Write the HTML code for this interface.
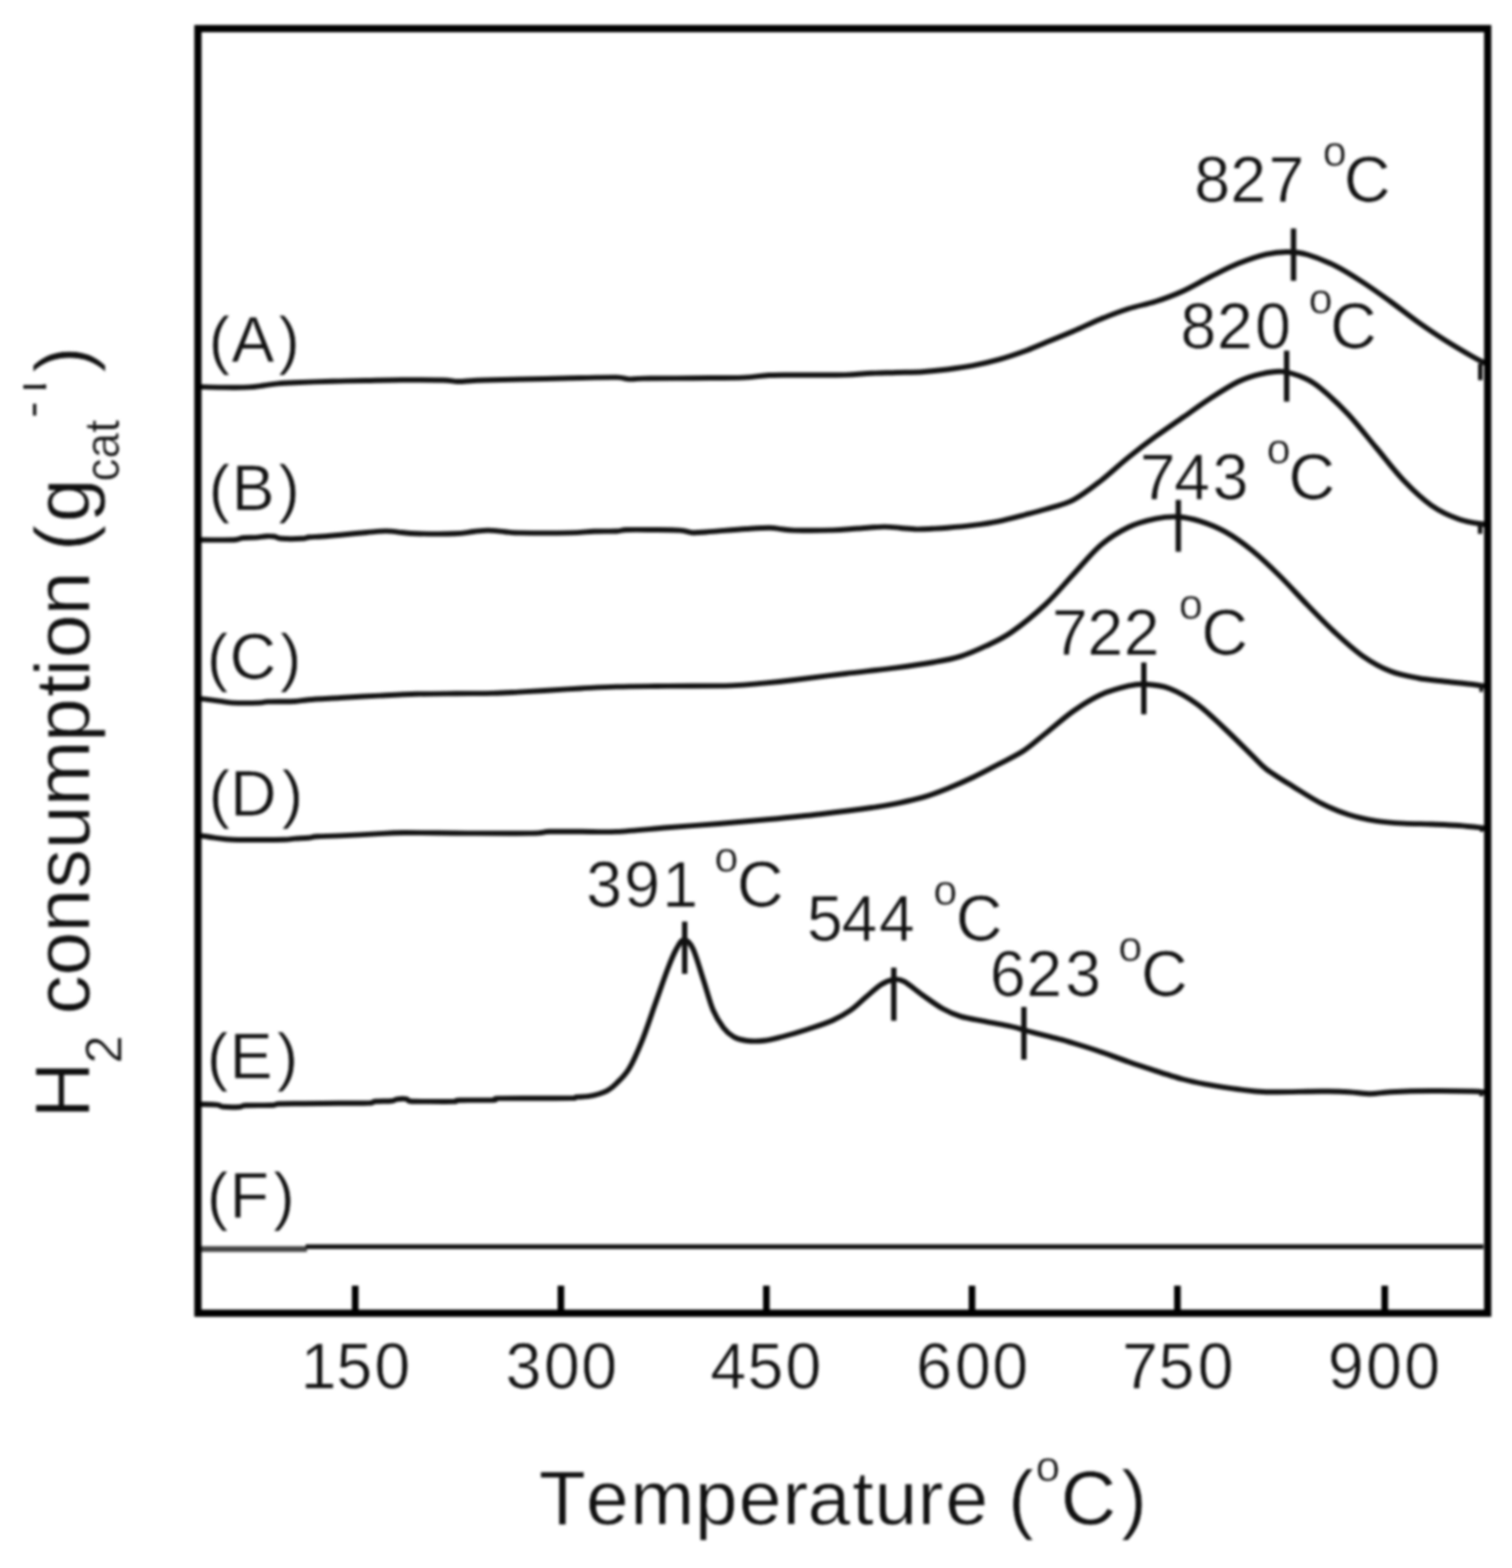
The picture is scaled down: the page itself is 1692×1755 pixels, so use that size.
<!DOCTYPE html>
<html lang="en">
<head>
<meta charset="utf-8">
<title>H2-TPR profiles</title>
<style>
html,body{margin:0;padding:0;background:#fff;}
body{width:1692px;height:1755px;overflow:hidden;}
svg{display:block;font-family:"Liberation Sans",Arial,Helvetica,sans-serif;}
svg text{fill:#111;font-kerning:none;stroke:#fff;stroke-width:0.7;}
</style>
</head>
<body>
<svg width="1692" height="1755" viewBox="0 0 1692 1755">
<rect x="0" y="0" width="1692" height="1755" fill="#fff"/>
<defs><filter id="soft" filterUnits="userSpaceOnUse" x="0" y="0" width="1692" height="1755" color-interpolation-filters="sRGB"><feGaussianBlur stdDeviation="1.4"/></filter></defs>
<g filter="url(#soft)">
<g fill="none" stroke="#111" stroke-width="5.9" stroke-linejoin="round" stroke-linecap="butt">
<path d="M224.0,433.0 C228.3,433.1 241.0,433.5 250.0,433.6 C259.0,433.7 270.5,433.8 278.0,433.4 C285.5,433.0 289.5,432.2 295.0,431.5 C300.5,430.8 305.2,429.9 311.0,429.4 C316.8,428.9 323.2,428.6 330.0,428.3 C336.8,428.0 343.7,427.7 352.0,427.4 C360.3,427.1 370.5,426.8 380.0,426.6 C389.5,426.4 397.3,426.2 409.0,426.0 C420.7,425.8 435.7,425.4 450.0,425.3 C464.3,425.2 484.7,425.2 495.0,425.5 C505.3,425.8 506.2,426.9 512.0,427.0 C517.8,427.1 523.3,426.3 530.0,426.0 C536.7,425.7 538.8,425.5 552.0,425.2 C565.2,424.9 592.7,424.4 609.0,424.0 C625.3,423.6 636.5,423.3 650.0,423.0 C663.5,422.7 681.0,422.2 690.0,422.4 C699.0,422.6 699.0,424.2 704.0,424.4 C709.0,424.6 708.2,423.8 720.0,423.6 C731.8,423.4 756.3,423.4 775.0,423.2 C793.7,423.0 817.7,423.1 832.0,422.6 C846.3,422.1 849.7,420.5 861.0,420.0 C872.3,419.5 885.8,419.9 900.0,419.8 C914.2,419.7 933.5,419.9 946.0,419.6 C958.5,419.3 965.5,418.2 975.0,417.8 C984.5,417.4 993.5,417.3 1003.0,417.0 C1012.5,416.7 1022.5,416.8 1032.0,416.2 C1041.5,415.6 1050.5,414.7 1060.0,413.5 C1069.5,412.3 1079.5,411.0 1089.0,409.2 C1098.5,407.4 1107.5,405.3 1117.0,402.7 C1126.5,400.1 1137.2,396.5 1146.0,393.3 C1154.8,390.1 1160.8,387.2 1170.0,383.5 C1179.2,379.8 1190.7,375.2 1201.0,370.8 C1211.3,366.4 1221.7,361.2 1232.0,357.0 C1242.3,352.8 1252.8,348.8 1263.0,345.5 C1273.2,342.2 1282.8,340.8 1293.0,337.5 C1303.2,334.2 1313.7,330.4 1324.0,325.7 C1334.3,321.0 1344.7,314.6 1355.0,309.5 C1365.3,304.4 1375.7,298.9 1386.0,294.8 C1396.3,290.7 1407.8,286.7 1417.0,284.6 C1426.2,282.5 1433.3,281.9 1441.0,282.0 C1448.7,282.1 1454.2,282.4 1463.0,285.0 C1471.8,287.6 1483.7,292.2 1494.0,297.4 C1504.3,302.5 1514.7,309.2 1525.0,315.9 C1535.3,322.6 1545.7,330.1 1556.0,337.5 C1566.3,344.9 1576.8,353.4 1587.0,360.6 C1597.2,367.8 1606.8,374.3 1617.0,380.7 C1627.2,387.1 1640.5,394.9 1648.0,399.2 C1655.5,403.5 1659.7,405.3 1662.0,406.5"/>
<path d="M224.0,604.3 C228.3,604.3 243.3,604.4 250.0,604.4 C256.7,604.4 260.3,604.4 264.0,604.0 C267.7,603.6 268.3,602.4 272.0,602.0 C275.7,601.6 281.7,601.9 286.0,601.6 C290.3,601.3 294.5,600.4 298.0,600.2 C301.5,600.0 304.2,600.1 307.0,600.5 C309.8,600.9 309.8,602.4 315.0,602.8 C320.2,603.2 332.8,603.1 338.0,602.8 C343.2,602.5 342.3,601.6 346.0,601.2 C349.7,600.8 354.2,600.9 360.0,600.5 C365.8,600.1 372.7,599.5 381.0,598.7 C389.3,598.0 401.5,596.7 410.0,596.0 C418.5,595.3 425.3,594.4 432.0,594.4 C438.7,594.4 444.3,595.5 450.0,596.0 C455.7,596.5 456.2,597.1 466.0,597.3 C475.8,597.5 498.3,597.7 509.0,597.3 C519.7,596.9 523.8,595.6 530.0,595.0 C536.2,594.4 540.2,593.6 546.0,593.6 C551.8,593.6 559.3,594.7 565.0,595.2 C570.7,595.7 568.0,596.2 580.0,596.4 C592.0,596.6 622.8,596.7 637.0,596.4 C651.2,596.1 656.2,595.1 665.0,594.8 C673.8,594.5 684.0,594.8 690.0,594.5 C696.0,594.2 694.3,593.2 701.0,593.0 C707.7,592.8 720.0,592.9 730.0,593.0 C740.0,593.1 753.5,593.1 761.0,593.6 C768.5,594.1 770.2,595.9 775.0,596.2 C779.8,596.5 785.2,595.8 790.0,595.5 C794.8,595.2 796.5,595.0 804.0,594.4 C811.5,593.8 825.5,592.6 835.0,592.0 C844.5,591.4 854.3,590.7 861.0,590.7 C867.7,590.8 870.3,591.8 875.0,592.3 C879.7,592.8 879.5,593.4 889.0,593.6 C898.5,593.8 920.2,593.8 932.0,593.4 C943.8,593.0 950.5,592.1 960.0,591.5 C969.5,590.9 981.0,589.7 989.0,589.6 C997.0,589.5 1001.8,590.5 1008.0,591.0 C1014.2,591.5 1020.2,592.3 1026.0,592.4 C1031.8,592.5 1037.3,592.1 1043.0,591.8 C1048.7,591.5 1052.3,591.4 1060.0,590.7 C1067.7,590.1 1079.5,589.1 1089.0,587.9 C1098.5,586.7 1107.5,585.5 1117.0,583.6 C1126.5,581.7 1137.2,578.8 1146.0,576.5 C1154.8,574.2 1160.8,572.8 1170.0,570.0 C1179.2,567.2 1190.7,564.9 1201.0,559.6 C1211.3,554.3 1221.7,546.0 1232.0,538.0 C1242.3,530.0 1252.8,520.0 1263.0,511.8 C1273.2,503.6 1282.8,496.2 1293.0,488.7 C1303.2,481.2 1313.7,474.2 1324.0,467.0 C1334.3,459.8 1344.7,452.2 1355.0,445.5 C1365.3,438.8 1376.7,431.5 1386.0,427.0 C1395.3,422.5 1402.8,420.5 1411.0,418.6 C1419.2,416.8 1426.8,415.1 1435.0,415.9 C1443.2,416.7 1452.8,420.1 1460.0,423.2 C1467.2,426.3 1469.8,427.9 1478.0,434.7 C1486.2,441.5 1498.7,452.9 1509.0,464.0 C1519.3,475.1 1529.7,488.7 1540.0,501.0 C1550.3,513.3 1560.7,527.2 1571.0,538.0 C1581.3,548.8 1591.7,558.6 1602.0,565.8 C1612.3,573.0 1623.0,577.6 1633.0,581.2 C1643.0,584.8 1657.2,586.2 1662.0,587.2"/>
<path d="M224.0,781.8 C227.5,782.3 239.0,783.8 245.0,784.6 C251.0,785.4 252.5,786.3 260.0,786.6 C267.5,786.9 283.3,786.8 290.0,786.6 C296.7,786.4 293.3,785.7 300.0,785.4 C306.7,785.1 322.5,785.4 330.0,785.0 C337.5,784.6 336.5,783.9 345.0,783.2 C353.5,782.5 367.7,781.8 381.0,781.0 C394.3,780.2 410.8,779.3 425.0,778.6 C439.2,777.9 451.8,777.2 466.0,776.8 C480.2,776.4 495.7,776.4 510.0,776.3 C524.3,776.1 540.3,776.2 552.0,775.9 C563.7,775.6 570.5,775.1 580.0,774.6 C589.5,774.1 597.3,773.7 609.0,773.0 C620.7,772.3 636.5,771.2 650.0,770.5 C663.5,769.8 673.8,769.0 690.0,768.6 C706.2,768.2 725.7,768.1 747.0,767.9 C768.3,767.7 800.0,767.9 818.0,767.4 C836.0,766.9 843.2,765.7 855.0,764.6 C866.8,763.5 873.8,762.8 889.0,761.0 C904.2,759.2 927.0,756.3 946.0,754.0 C965.0,751.7 986.3,749.6 1003.0,747.4 C1019.7,745.2 1034.0,743.1 1046.0,741.0 C1058.0,738.9 1065.5,737.6 1075.0,734.6 C1084.5,731.6 1093.5,727.7 1103.0,723.2 C1112.5,718.7 1120.8,715.3 1132.0,707.5 C1143.2,699.7 1158.5,687.2 1170.0,676.5 C1181.5,665.8 1190.7,654.1 1201.0,643.0 C1211.3,631.9 1221.7,618.8 1232.0,610.0 C1242.3,601.2 1252.8,594.9 1263.0,590.0 C1273.2,585.1 1283.8,582.5 1293.0,580.6 C1302.2,578.7 1309.7,578.0 1318.0,578.5 C1326.3,579.0 1334.2,580.6 1343.0,583.4 C1351.8,586.2 1361.3,589.8 1371.0,595.2 C1380.7,600.6 1390.8,607.8 1401.0,616.0 C1411.2,624.2 1421.7,634.3 1432.0,644.5 C1442.3,654.7 1452.7,666.4 1463.0,677.0 C1473.3,687.6 1483.7,698.5 1494.0,708.0 C1504.3,717.5 1514.7,727.1 1525.0,734.3 C1535.3,741.5 1545.7,747.2 1556.0,751.3 C1566.3,755.4 1576.8,757.1 1587.0,759.0 C1597.2,760.9 1606.8,761.5 1617.0,762.7 C1627.2,763.9 1640.5,765.1 1648.0,766.0 C1655.5,766.9 1659.7,767.7 1662.0,768.0"/>
<path d="M224.0,935.2 C226.7,935.6 234.0,936.8 240.0,937.6 C246.0,938.4 251.7,939.4 260.0,939.8 C268.3,940.2 280.3,940.0 290.0,940.0 C299.7,940.0 311.3,940.0 318.0,939.8 C324.7,939.6 325.5,938.9 330.0,938.6 C334.5,938.3 340.8,938.2 345.0,937.8 C349.2,937.4 349.0,936.6 355.0,936.2 C361.0,935.8 370.2,935.9 381.0,935.4 C391.8,934.9 408.2,934.0 420.0,933.4 C431.8,932.8 434.8,932.1 452.0,932.0 C469.2,931.9 499.2,932.5 523.0,932.6 C546.8,932.7 579.7,932.9 595.0,932.6 C610.3,932.3 605.8,931.1 615.0,930.8 C624.2,930.5 637.5,930.8 650.0,930.8 C662.5,930.8 673.8,931.6 690.0,930.9 C706.2,930.1 728.0,927.8 747.0,926.3 C766.0,924.8 785.0,923.5 804.0,922.0 C823.0,920.5 842.0,918.8 861.0,917.0 C880.0,915.2 899.0,913.4 918.0,911.2 C937.0,909.0 960.8,906.0 975.0,904.0 C989.2,902.0 993.5,901.2 1003.0,899.3 C1012.5,897.4 1022.5,895.5 1032.0,892.7 C1041.5,889.9 1050.5,886.5 1060.0,882.7 C1069.5,878.9 1079.5,874.5 1089.0,870.0 C1098.5,865.5 1107.5,860.7 1117.0,855.7 C1126.5,850.7 1137.2,845.8 1146.0,840.0 C1154.8,834.2 1160.8,828.3 1170.0,821.0 C1179.2,813.7 1190.7,803.2 1201.0,796.0 C1211.3,788.8 1221.7,782.2 1232.0,777.5 C1242.3,772.8 1254.8,769.7 1263.0,767.7 C1271.2,765.8 1273.3,765.3 1281.0,765.8 C1288.7,766.3 1299.2,767.0 1309.0,770.7 C1318.8,774.5 1329.7,780.8 1340.0,788.3 C1350.3,795.8 1360.8,806.5 1371.0,816.0 C1381.2,825.5 1393.3,837.9 1401.0,845.4 C1408.7,852.9 1409.2,854.9 1417.0,860.8 C1424.8,866.7 1437.7,874.5 1448.0,880.9 C1458.3,887.3 1468.8,894.3 1479.0,899.4 C1489.2,904.5 1498.8,908.5 1509.0,911.7 C1519.2,914.9 1529.7,917.1 1540.0,918.8 C1550.3,920.4 1560.7,921.0 1571.0,921.6 C1581.3,922.2 1591.7,922.1 1602.0,922.5 C1612.3,922.9 1623.0,923.2 1633.0,924.0 C1643.0,924.8 1657.2,926.5 1662.0,927.0"/>
<path d="M224.0,1236.0 C227.2,1236.1 238.7,1236.1 243.0,1236.6 C247.3,1237.1 245.8,1238.4 250.0,1238.8 C254.2,1239.2 263.8,1239.2 268.0,1239.0 C272.2,1238.8 268.8,1237.6 275.0,1237.3 C281.2,1237.0 298.8,1237.3 305.0,1237.0 C311.2,1236.7 306.2,1235.8 312.0,1235.5 C317.8,1235.2 328.7,1235.3 340.0,1235.2 C351.3,1235.1 367.8,1234.9 380.0,1234.8 C392.2,1234.7 406.3,1234.9 413.0,1234.6 C419.7,1234.3 415.8,1233.2 420.0,1232.8 C424.2,1232.4 434.0,1232.7 438.0,1232.3 C442.0,1231.9 441.2,1230.7 444.0,1230.3 C446.8,1229.9 452.5,1229.7 455.0,1230.1 C457.5,1230.5 454.8,1232.0 459.0,1232.5 C463.2,1233.0 471.8,1232.8 480.0,1232.9 C488.2,1233.0 502.3,1233.1 508.0,1232.9 C513.7,1232.7 506.7,1231.8 514.0,1231.5 C521.3,1231.2 544.8,1231.6 552.0,1231.3 C559.2,1231.0 549.0,1229.8 557.0,1229.4 C565.0,1229.1 586.2,1229.2 600.0,1229.2 C613.8,1229.2 632.5,1229.3 640.0,1229.1 C647.5,1228.9 642.0,1228.2 645.0,1227.9 C648.0,1227.6 653.8,1227.8 658.0,1227.2 C662.2,1226.6 666.3,1225.6 670.0,1224.5 C673.7,1223.4 676.7,1222.5 680.0,1220.5 C683.3,1218.5 686.0,1216.6 690.0,1212.5 C694.0,1208.4 699.2,1204.0 704.0,1196.0 C708.8,1188.0 713.7,1176.6 718.5,1164.8 C723.3,1153.0 728.0,1138.3 732.7,1125.0 C737.5,1111.7 743.0,1095.5 747.0,1085.0 C751.0,1074.5 753.9,1067.5 757.0,1062.0 C760.1,1056.5 762.4,1052.0 765.5,1052.0 C768.6,1052.0 771.9,1054.6 775.5,1062.0 C779.1,1069.4 783.2,1085.0 787.0,1096.4 C790.8,1107.8 794.2,1121.6 798.0,1130.6 C801.8,1139.6 805.9,1145.5 809.7,1150.5 C813.5,1155.5 816.8,1158.1 821.0,1160.5 C825.2,1162.9 829.3,1164.1 835.0,1164.8 C840.7,1165.5 848.3,1165.5 855.0,1164.8 C861.7,1164.1 866.8,1162.6 875.0,1160.5 C883.2,1158.4 894.5,1155.1 904.0,1152.0 C913.5,1148.9 924.0,1145.6 932.0,1142.0 C940.0,1138.4 945.8,1134.9 952.0,1130.6 C958.2,1126.3 963.3,1120.8 969.0,1116.0 C974.7,1111.2 980.8,1105.3 986.0,1102.0 C991.2,1098.7 996.2,1097.0 1000.5,1096.4 C1004.8,1095.9 1006.8,1095.9 1012.0,1098.7 C1017.2,1101.5 1024.8,1108.5 1032.0,1113.5 C1039.2,1118.5 1047.8,1125.0 1055.0,1129.0 C1062.2,1133.0 1067.0,1135.3 1075.0,1137.7 C1083.0,1140.1 1093.5,1141.5 1103.0,1143.4 C1112.5,1145.3 1124.2,1147.2 1132.0,1149.0 C1139.8,1150.8 1143.7,1152.3 1150.0,1154.0 C1156.3,1155.7 1163.7,1157.6 1170.0,1159.2 C1176.3,1160.8 1182.8,1162.3 1188.0,1163.7 C1193.2,1165.1 1194.3,1165.5 1201.0,1167.5 C1207.7,1169.5 1217.7,1172.5 1228.0,1176.0 C1238.3,1179.5 1252.7,1184.9 1263.0,1188.5 C1273.3,1192.1 1279.8,1194.2 1290.0,1197.5 C1300.2,1200.8 1314.0,1205.3 1324.0,1208.0 C1334.0,1210.7 1339.7,1211.7 1350.0,1213.6 C1360.3,1215.5 1374.8,1217.9 1386.0,1219.3 C1397.2,1220.7 1401.7,1221.8 1417.0,1222.2 C1432.3,1222.6 1462.7,1221.5 1478.0,1221.5 C1493.3,1221.5 1499.7,1221.7 1509.0,1222.2 C1518.3,1222.7 1526.2,1224.3 1534.0,1224.3 C1541.8,1224.3 1544.7,1222.8 1556.0,1222.2 C1567.3,1221.7 1586.7,1221.1 1602.0,1221.0 C1617.3,1220.9 1638.0,1221.2 1648.0,1221.5 C1658.0,1221.8 1659.7,1222.3 1662.0,1222.5"/>
<path d="M224,1398 L343.5,1398" stroke="#444" stroke-width="6.4"/>
<path d="M342,1395.4 L1660,1395.4" stroke-width="5.4"/>
<path d="M1656.5,407 V425.5 M1656.3,587 V597.5" stroke-width="5"/>
<path d="M1657.5,766 V774.5 M1658,926 V931 M1657.5,1221 V1227" stroke-width="4"/>
</g>
<g fill="none" stroke="#111" stroke-width="6.0">
<line x1="1447.5" y1="255.7" x2="1447.5" y2="314.3"/>
<line x1="1439.8" y1="392.5" x2="1439.8" y2="449.5"/>
<line x1="1318.6" y1="559.5" x2="1318.6" y2="617.5"/>
<line x1="1280" y1="741.5" x2="1280" y2="799.5"/>
<line x1="766.2" y1="1031.5" x2="766.2" y2="1090"/>
<line x1="1000.2" y1="1083" x2="1000.2" y2="1142.5"/>
<line x1="1145.8" y1="1127" x2="1145.8" y2="1186"/>
</g>
<g fill="none" stroke="#000" stroke-width="7.4" stroke-linecap="butt">
<line x1="397.5" y1="1439" x2="397.5" y2="1470"/>
<line x1="627.7" y1="1439" x2="627.7" y2="1470"/>
<line x1="857.6" y1="1439" x2="857.6" y2="1470"/>
<line x1="1087.7" y1="1439" x2="1087.7" y2="1470"/>
<line x1="1317.6" y1="1439" x2="1317.6" y2="1470"/>
<line x1="1549.6" y1="1439" x2="1549.6" y2="1470"/>
</g>
<rect x="221.5" y="32" width="1443.3" height="1437.8" fill="none" stroke="#000" stroke-width="8.1" stroke-linejoin="miter"/>
<g>
<text x="233.5 259.1 311.4" y="404.5" font-size="72">(A)</text>
<text x="233.5 259.2 311.4" y="570.8" font-size="72">(B)</text>
<text x="231.4 257 313.2" y="759.7" font-size="72">(C)</text>
<text x="233.5 257.5 315.3" y="913.3" font-size="72">(D)</text>
<text x="231.4 257.1 309.7" y="1207.4" font-size="72">(E)</text>
<text x="231.4 257.1 305.8" y="1362.8" font-size="72">(F)</text>
<text x="1336.5 1376.8 1419.4" y="226" font-size="72">827</text>
<text x="1480.3" y="186.4" font-size="48">o</text>
<text x="1504" y="226" font-size="72">C</text>
<text x="1321.1 1361.8 1404.5" y="390.2" font-size="72">820</text>
<text x="1464.6" y="351" font-size="48">o</text>
<text x="1488.6" y="390.2" font-size="72">C</text>
<text x="1275.6 1314 1357" y="558.6" font-size="72">743</text>
<text x="1417.6" y="518.7" font-size="48">o</text>
<text x="1442.1" y="558.6" font-size="72">C</text>
<text x="1177.2 1216.8 1257.5" y="732.5" font-size="72">722</text>
<text x="1319.2" y="693.3" font-size="48">o</text>
<text x="1344.4" y="732.5" font-size="72">C</text>
<text x="655.9 698.4 741.3" y="1014.8" font-size="72">391</text>
<text x="799.6" y="975.6" font-size="48">o</text>
<text x="824.8" y="1014.8" font-size="72">C</text>
<text x="903 941.7 983.5" y="1052.5" font-size="72">544</text>
<text x="1044.6" y="1013.3" font-size="48">o</text>
<text x="1069.8" y="1052.5" font-size="72">C</text>
<text x="1107.7 1148.4 1192" y="1114.8" font-size="72">623</text>
<text x="1251.5" y="1075.6" font-size="48">o</text>
<text x="1277.1" y="1114.8" font-size="72">C</text>
<text x="336.6 376.4 419" y="1554.3" font-size="72">150</text>
<text x="565.8 608.8 650.4" y="1554.3" font-size="72">300</text>
<text x="795 836.4 879" y="1554.3" font-size="72">450</text>
<text x="1025.3 1068.8 1110.4" y="1554.3" font-size="72">600</text>
<text x="1255.8 1296.4 1340.2" y="1554.3" font-size="72">750</text>
<text x="1486.1 1528.8 1571.5" y="1554.3" font-size="72">900</text>
<text x="603 655.7 705.2 777.5 826.8 875.7 903.8 953.7 978.5 1027 1058" y="1706" font-size="86">Temperature</text>
<text x="1128.2" y="1706" font-size="86">(</text>
<text x="1158.9" y="1657.9" font-size="49">o</text>
<text x="1187" y="1706" font-size="86">C</text>
<text x="1254.7" y="1706" font-size="86">)</text>
<defs><clipPath id="yclip"><path d="M26.1,380 H44.5 V430.2 H60 V435.2 H44.5 V448 H60 V470 H26.1 Z"/></clipPath></defs>
<g transform="translate(100.3,0) rotate(-90)">
<text x="-1251.7" y="0" font-size="88">H</text>
<text x="-1190.6" y="35.4" font-size="57">2</text>
<text x="-1135.6 -1091.9 -1043.8 -994.5 -950.5 -902.2 -830.5 -780.1 -757 -736.8 -688.7" y="0" font-size="88">consumption</text>
<text x="-616.8 -584.4" y="0" font-size="88">(g</text>
<text transform="translate(-539.1,32.6) scale(0.92,1)" font-size="56.4">cat</text>
<text x="-417.1" y="0" font-size="88">)</text>
</g>
<g clip-path="url(#yclip)"><g transform="translate(100.3,0) rotate(-90)">
<text x="-468.1" y="-45.9" font-size="57">-</text>
<text x="-449.8" y="-48.1" font-size="57">1</text>
</g></g>
</g>
</g>
</svg>
</body>
</html>
